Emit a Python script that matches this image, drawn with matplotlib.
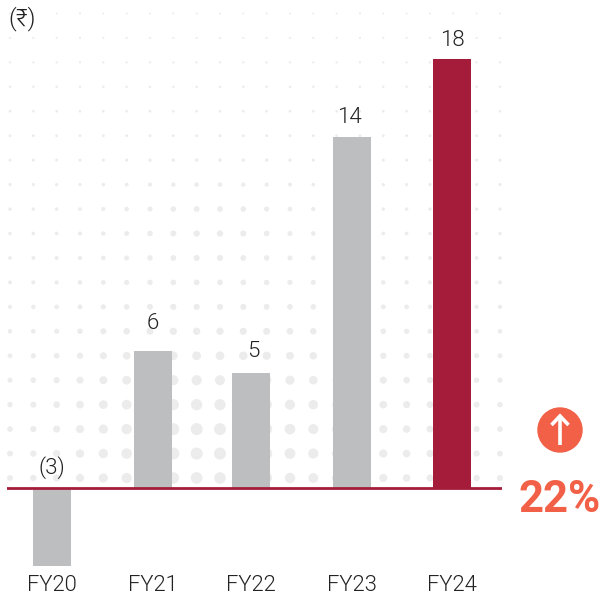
import matplotlib
matplotlib.use('Agg')
import matplotlib.pyplot as plt
import numpy as np

plt.rcParams['font.family'] = ['Roboto', 'DejaVu Sans']

W, H = 603, 596

years = ['FY20', 'FY21', 'FY22', 'FY23', 'FY24']
profit = [-3.3, 5.74, 4.82, 14.74, 18.0]
value_labels = ['(3)', '6', '5', '14', '18']
bar_colors = ['#bcbec0', '#bcbec0', '#bcbec0', '#bcbec0', '#a51c3a']
growth = '22%'

# bars are not quite evenly spaced in the original
x_pos = [0, 1.01, 1.99, 3, 4]
# label nudges in points (x, y)
label_off = [(0, 6), (0, 12), (2, 7.5), (-2.2, 6), (0, 6)]

fig = plt.figure(figsize=(W / 100, H / 100), dpi=100, facecolor='white')

# halftone background, in pixels
bg = fig.add_axes([0, 0, 1, 1])
bg.set_xlim(0, W)
bg.set_ylim(H, 0)
bg.axis('off')
gx, gy = np.meshgrid(10 + 23.33 * np.arange(22), 478 - 24.45 * np.arange(20))
dx = np.where(gx < 190, (gx - 190) / 125, (gx - 190) / 220)
radius = 1.0 + 1.5 * (gy - 12) / 466
radius += 3.7 * np.exp(-dx ** 2 - ((gy - 440) / 120) ** 2)
radius += 1.3 * np.exp(-((gx - 210) / 100) ** 2 - ((gy - 225) / 50) ** 2)
bg.scatter(gx, gy, s=(radius * 0.72 * 2) ** 2, color='#ececed', linewidths=0)

# main chart, y=0 sits on the red baseline
scale = (487.5 - 59) / 18
left, right = 7, 502
bottom = 566
ax = fig.add_axes([left / W, 1 - bottom / H, (right - left) / W, (bottom - 59) / H])
ax.patch.set_alpha(0)
ax.set_xlim((left - 52) / 100, (right - 52) / 100)
ax.set_ylim(-(bottom - 487.5) / scale, 18)
for s in ax.spines.values():
    s.set_visible(False)
ax.set_yticks([])
ax.set_xticks(x_pos)
ax.set_xticklabels(years, fontsize=15.8, fontweight=300, color='#222222')
ax.tick_params(axis='x', length=0, pad=6.3)

ax.bar(x_pos, profit, width=0.38, color=bar_colors)
ax.axhline(0, color='#a51c3a', lw=2)

for i, lab in enumerate(value_labels):
    y = max(profit[i], 0)
    ax.annotate(lab, (x_pos[i], y), xytext=label_off[i], textcoords='offset points', ha='center', va='bottom',
                fontsize=16, fontweight=300, color='#222222', annotation_clip=False)

# unit and growth callout
bg.text(8, 19, '(₹)', fontsize=17.5, fontweight=300, color='#222222', ha='left', va='center')
bg.add_patch(plt.Circle((560, 430), 22, color='#f26048'))
bg.plot([560, 560], [445, 416], color='white', lw=2.6, solid_capstyle='butt')
bg.plot([551.5, 560, 568.5], [425, 416, 425], color='white', lw=2.6, solid_joinstyle='miter', solid_capstyle='butt')
bg.text(559.5, 499.5, growth, fontsize=31.5, fontweight='bold', color='#f26048', ha='center', va='center')

fig.savefig('out.png', dpi=100)
